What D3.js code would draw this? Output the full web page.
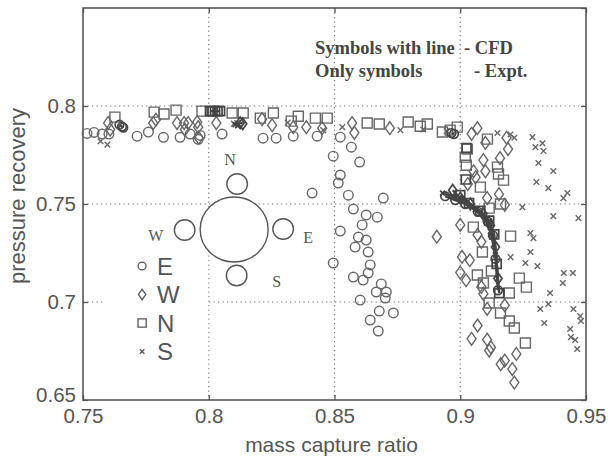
<!DOCTYPE html>
<html>
<head>
<meta charset="utf-8">
<script src="https://cdn.jsdelivr.net/npm/d3@7"></script>
<style>
  body { margin: 0; background: #fff; }
  svg { display: block; }
</style>
</head>
<body>
<div id="chart"></div>
<script>
'use strict'

// axis ticks
let xTicks = [0.75, 0.8, 0.85, 0.9, 0.95]
let yTicks = [0.65, 0.7, 0.75, 0.8]
let yGrid = [0.7, 0.75, 0.8]
let xGrid = [0.8, 0.85, 0.9]

// experiment points [mass capture ratio, pressure recovery]
let eExpt = [
  [0.7516, 0.786], [0.7544, 0.7865], [0.7576, 0.7857], [0.7603, 0.7857], [0.7715, 0.7846],
  [0.776, 0.7867], [0.782, 0.784], [0.7886, 0.784], [0.7926, 0.7857], [0.7958, 0.783],
  [0.7966, 0.785], [0.8053, 0.7857], [0.8216, 0.7836], [0.8268, 0.7836], [0.8336, 0.7846],
  [0.8431, 0.7846], [0.8523, 0.7841], [0.8495, 0.7744], [0.8567, 0.779], [0.86, 0.7714],
  [0.8523, 0.7648], [0.8515, 0.7607], [0.8411, 0.7556], [0.8555, 0.7545], [0.8694, 0.753],
  [0.8575, 0.7474], [0.8626, 0.7444], [0.867, 0.7433], [0.861, 0.7393], [0.8523, 0.7362],
  [0.8595, 0.7331], [0.8626, 0.7316], [0.8582, 0.728], [0.8634, 0.7255], [0.8495, 0.7199],
  [0.8642, 0.7189], [0.8634, 0.7148], [0.8575, 0.7127], [0.8614, 0.7112], [0.8686, 0.7092],
  [0.8666, 0.7051], [0.8706, 0.7051], [0.8702, 0.702], [0.8602, 0.701], [0.8678, 0.6954],
  [0.8734, 0.6944], [0.8642, 0.6908], [0.8674, 0.6852]
]
let wExpt = [
  [0.76, 0.7913], [0.7608, 0.788], [0.7779, 0.7913], [0.779, 0.793], [0.7874, 0.7913],
  [0.7902, 0.7913], [0.7918, 0.7913], [0.7954, 0.7918], [0.7958, 0.7892], [0.796, 0.7838],
  [0.7905, 0.788], [0.803, 0.7913], [0.8212, 0.7933], [0.8252, 0.7902], [0.8336, 0.7892],
  [0.8388, 0.7892], [0.8451, 0.7887], [0.857, 0.7913], [0.8579, 0.7863], [0.872, 0.7887],
  [0.9068, 0.7887], [0.9045, 0.7858], [0.91, 0.7812], [0.9184, 0.7838], [0.919, 0.778],
  [0.9158, 0.7734], [0.9092, 0.7724], [0.9053, 0.7667], [0.9061, 0.7636], [0.903, 0.7602],
  [0.91, 0.7667], [0.9107, 0.753], [0.9154, 0.755], [0.9177, 0.7496], [0.9, 0.7393],
  [0.8907, 0.7333], [0.9069, 0.7342], [0.9084, 0.7307], [0.9007, 0.723], [0.9038, 0.7213],
  [0.9, 0.715], [0.9023, 0.7111], [0.9084, 0.7077], [0.9092, 0.7042], [0.9107, 0.6965],
  [0.9069, 0.688], [0.9045, 0.6812], [0.9107, 0.6808], [0.9122, 0.6769], [0.9115, 0.6752],
  [0.9177, 0.6701], [0.9161, 0.6683], [0.9223, 0.6735], [0.9207, 0.6658], [0.9215, 0.6589],
  [0.9177, 0.6983]
]
let nExpt = [
  [0.7627, 0.7943], [0.7783, 0.7969], [0.7822, 0.7959], [0.787, 0.7979], [0.7973, 0.7974],
  [0.8093, 0.7964], [0.8137, 0.7964], [0.8205, 0.7938], [0.8257, 0.7964], [0.8328, 0.7923],
  [0.8356, 0.7948], [0.8424, 0.7938], [0.8471, 0.7938], [0.863, 0.7913], [0.8678, 0.7908],
  [0.8793, 0.7918], [0.8841, 0.7897], [0.8869, 0.7908], [0.8929, 0.7867], [0.896, 0.7877],
  [0.8988, 0.7892], [0.9028, 0.778], [0.902, 0.7739], [0.9024, 0.7698], [0.9108, 0.7831],
  [0.9148, 0.7688], [0.9152, 0.7653], [0.9172, 0.7622], [0.908, 0.7586], [0.916, 0.75],
  [0.9115, 0.7479], [0.9052, 0.7382], [0.92, 0.7336], [0.9088, 0.7255], [0.9068, 0.7138],
  [0.9092, 0.7097], [0.9124, 0.7158], [0.9235, 0.7122], [0.9263, 0.7076], [0.9195, 0.7046],
  [0.9115, 0.6995], [0.916, 0.6944], [0.9195, 0.6903], [0.9215, 0.6867], [0.9259, 0.6791]
]
let sExpt = [
  [0.757, 0.782], [0.7597, 0.7803], [0.81, 0.791], [0.8113, 0.7913], [0.8314, 0.7915],
  [0.8455, 0.7877], [0.8531, 0.7892], [0.8762, 0.7877], [0.8853, 0.788], [0.8946, 0.7872],
  [0.9148, 0.7862], [0.92, 0.7855], [0.9215, 0.7838], [0.9287, 0.7841], [0.9299, 0.779],
  [0.9327, 0.781], [0.9331, 0.777], [0.9311, 0.7709], [0.937, 0.7668], [0.9303, 0.7612],
  [0.935, 0.7581], [0.9426, 0.7556], [0.941, 0.753], [0.9247, 0.7484], [0.937, 0.7438],
  [0.947, 0.7428], [0.9279, 0.7352], [0.9291, 0.7326], [0.9279, 0.7255], [0.92, 0.7229],
  [0.9259, 0.7199], [0.9307, 0.7183], [0.9412, 0.7148], [0.9448, 0.7148], [0.9408, 0.7097],
  [0.9357, 0.7046], [0.935, 0.699], [0.9318, 0.6964], [0.9334, 0.6893], [0.945, 0.6964],
  [0.9477, 0.6928], [0.948, 0.6903], [0.9437, 0.6862], [0.944, 0.6821], [0.9457, 0.6806],
  [0.9465, 0.676]
]

// CFD points (symbols with line), null breaks the line
let eCfd = [
  [0.7645, 0.7905], [0.7655, 0.7895], [0.766, 0.789], null,
  [0.8965, 0.7862], [0.8975, 0.7857], null,
  [0.894, 0.754], [0.898, 0.752], [0.902, 0.750], [0.907, 0.746], [0.911, 0.741],
  [0.913, 0.734], [0.914, 0.722], [0.915, 0.706]
]
let wCfd = [
  [0.8125, 0.7915], [0.8135, 0.791], null,
  [0.897, 0.757], [0.900, 0.753], [0.904, 0.750], [0.909, 0.745], [0.912, 0.739],
  [0.914, 0.728], [0.915, 0.712]
]
let nCfd = [
  [0.8005, 0.7974], [0.8015, 0.7974], [0.8025, 0.7974], [0.8035, 0.7974], [0.8045, 0.7974], null,
  [0.9025, 0.7785], null, [0.9022, 0.7625], null,
  [0.900, 0.7545], [0.9035, 0.7505], [0.908, 0.7465], [0.9115, 0.7415], [0.9135, 0.7345],
  [0.9145, 0.7195], [0.9155, 0.7045]
]
let sCfd = [
  [0.8105, 0.7905], [0.8115, 0.79], null,
  [0.893, 0.7555], [0.897, 0.754], [0.901, 0.751], [0.906, 0.747], [0.910, 0.742],
  [0.912, 0.736], [0.914, 0.724]
]

let series = [
  { label: 'E', mark: 'o', expt: eExpt, cfd: eCfd },
  { label: 'W', mark: 'd', expt: wExpt, cfd: wCfd },
  { label: 'N', mark: 's', expt: nExpt, cfd: nCfd },
  { label: 'S', mark: 'x', expt: sExpt, cfd: sCfd }
]

let width = 608
let height = 460
let margin = { top: 8, right: 22, bottom: 60, left: 83 }
let w = width - margin.left - margin.right
let h = height - margin.top - margin.bottom

let ink = '#555'
let markInk = '#666'
let cfdInk = '#444'

function markPath(type, k) {
  k = k || 1
  if (type === 'o') {
    let r = 4.8 * k
    return 'M' + r + ',0A' + r + ',' + r + ' 0 1,1 ' + (-r) + ',0A' + r + ',' + r + ' 0 1,1 ' + r + ',0Z'
  }
  if (type === 'd') {
    let a = 4.5 * k, b = 6.4 * k
    return 'M0,' + (-b) + 'L' + a + ',0L0,' + b + 'L' + (-a) + ',0Z'
  }
  if (type === 's') {
    let a = 5 * k
    return 'M' + (-a) + ',' + (-a) + 'H' + a + 'V' + a + 'H' + (-a) + 'Z'
  }
  let c = 2.8 * k
  return 'M' + (-c) + ',' + (-c) + 'L' + c + ',' + c + 'M' + (-c) + ',' + c + 'L' + c + ',' + (-c)
}

let svg = d3.select('#chart').append('svg')
  .attr('width', width)
  .attr('height', height)
  .style('font-family', '"Liberation Sans", Arial, sans-serif')

let g = svg.append('g')
  .attr('transform', 'translate(' + margin.left + ',' + margin.top + ')')

let x = d3.scaleLinear().domain([0.75, 0.95]).range([0, w])
let y = d3.scaleLinear().domain([0.65, 0.85]).range([h, 0])

// dotted grid
g.append('g').selectAll('line').data(xGrid).enter().append('line')
  .attr('x1', d => x(d)).attr('x2', d => x(d))
  .attr('y1', 0).attr('y2', h)
  .attr('stroke', '#777').attr('stroke-width', 1.2).attr('stroke-dasharray', '1.3,3.2')
g.append('g').selectAll('line').data(yGrid).enter().append('line')
  .attr('x1', 0).attr('x2', w)
  .attr('y1', d => y(d)).attr('y2', d => y(d))
  .attr('stroke', '#777').attr('stroke-width', 1.2).attr('stroke-dasharray', '1.3,3.2')

// white patch of the pasted inset (hides grid behind legend)
g.append('rect')
  .attr('x', x(0.758)).attr('y', y(0.75) + 1)
  .attr('width', x(0.8) - x(0.758) - 0.5).attr('height', y(0.6655) - y(0.75) - 1)
  .attr('fill', '#fff')

// axes
let fmt = d => String(+d.toFixed(2))
g.append('g').attr('transform', 'translate(0,' + h + ')')
  .call(d3.axisBottom(x).tickValues(xTicks).tickFormat(fmt).tickSizeInner(-5).tickSizeOuter(0).tickPadding(8))
let yAxis = g.append('g')
  .call(d3.axisLeft(y).tickValues(yTicks).tickFormat(fmt).tickSizeInner(-5).tickSizeOuter(0).tickPadding(7))
g.append('g').call(d3.axisTop(x).tickValues(xTicks).tickFormat('').tickSizeInner(-5).tickSizeOuter(0))
g.append('g').attr('transform', 'translate(' + w + ',0)')
  .call(d3.axisRight(y).tickValues(yTicks.concat([0.85])).tickFormat('').tickSizeInner(-5).tickSizeOuter(0))

g.selectAll('.domain').remove()
g.selectAll('.tick line').attr('stroke', ink).attr('stroke-width', 1.3)
g.selectAll('.tick text').attr('fill', ink).style('font-size', '20.5px')
// the lowest label sits a little above its tick, as in the original
yAxis.selectAll('.tick text').filter(d => d === 0.65).attr('dy', '0.05em')

g.append('rect')
  .attr('width', w).attr('height', h)
  .attr('fill', 'none').attr('stroke', ink).attr('stroke-width', 1.6)

// experiment markers
series.forEach(s => {
  g.append('g').selectAll('path').data(s.expt).enter().append('path')
    .attr('transform', d => 'translate(' + x(d[0]) + ',' + y(d[1]) + ')')
    .attr('d', markPath(s.mark))
    .attr('fill', 'none').attr('stroke', markInk).attr('stroke-width', 1.4)
})

// CFD: symbols with line
let line = d3.line().defined(d => d !== null).x(d => x(d[0])).y(d => y(d[1]))
series.forEach(s => {
  g.append('path').datum(s.cfd)
    .attr('d', line)
    .attr('fill', 'none').attr('stroke', cfdInk).attr('stroke-width', 2.4)
  g.append('g').selectAll('path').data(s.cfd.filter(d => d !== null)).enter().append('path')
    .attr('transform', d => 'translate(' + x(d[0]) + ',' + y(d[1]) + ')')
    .attr('d', markPath(s.mark, 0.9))
    .attr('fill', 'none').attr('stroke', cfdInk).attr('stroke-width', 1.7)
})

// compass sketch of the intake
let cx = x(0.8101), cy = y(0.737)
let comp = g.append('g').attr('transform', 'translate(' + cx + ',' + cy + ')')
  .attr('fill', '#fff').attr('stroke', ink).attr('stroke-width', 1.4)
comp.append('ellipse').attr('rx', 34).attr('ry', 32.5)
let small = [
  { dx: 3, dy: -45.5, name: 'N', lx: -10, ly: -70 },
  { dx: -49.5, dy: 0.5, name: 'W', lx: -86, ly: 6 },
  { dx: 49, dy: -0.5, name: 'E', lx: 69, ly: 8 },
  { dx: 2.5, dy: 46, name: 'S', lx: 38, ly: 52 }
]
comp.selectAll('circle').data(small).enter().append('circle')
  .attr('cx', d => d.dx).attr('cy', d => d.dy).attr('r', 10.3)
comp.selectAll('text').data(small).enter().append('text')
  .attr('x', d => d.lx).attr('y', d => d.ly)
  .attr('dominant-baseline', 'central')
  .attr('stroke', 'none').attr('fill', ink)
  .style('font-family', '"Liberation Serif", "Times New Roman", serif')
  .style('font-size', '16px')
  .text(d => d.name)

// legend
let legend = g.selectAll('.legend').data(series).enter().append('g')
  .attr('class', 'legend')
  .attr('transform', (d, i) => 'translate(' + x(0.7735) + ',' + (y(0.7) - 36 + i * 28.5) + ')')
legend.append('path')
  .attr('d', d => markPath(d.mark, 0.82))
  .attr('fill', 'none').attr('stroke', ink).attr('stroke-width', 1.3)
legend.append('text')
  .attr('x', 15).attr('dy', '0.36em')
  .attr('fill', ink).style('font-size', '24px')
  .text(d => d.label)

// note in the top right corner
let note = g.append('g')
  .style('font-family', '"Liberation Serif", "Times New Roman", serif')
  .style('font-weight', 'bold').style('font-size', '18.5px').attr('fill', '#444')
note.append('text').attr('x', 232).attr('y', 46).text('Symbols with line')
note.append('text').attr('x', 381).attr('y', 46).text('- CFD')
note.append('text').attr('x', 232).attr('y', 69).text('Only symbols')
note.append('text').attr('x', 391).attr('y', 69).text('-  Expt.')

// axis titles
svg.append('text')
  .attr('x', margin.left + w / 2 - 3).attr('y', 452)
  .attr('text-anchor', 'middle').attr('fill', ink)
  .style('font-size', '21px')
  .text('mass capture ratio')
svg.append('text')
  .attr('transform', 'translate(25,' + 196 + ')rotate(-90)')
  .attr('text-anchor', 'middle').attr('fill', ink)
  .style('font-size', '22px')
  .text('pressure recovery')
</script>
</body>
</html>
